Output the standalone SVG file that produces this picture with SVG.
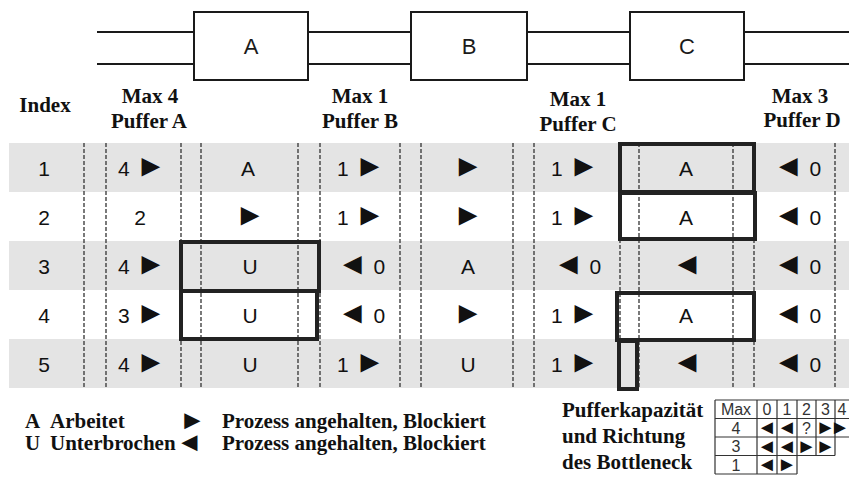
<svg xmlns="http://www.w3.org/2000/svg" width="849" height="478" viewBox="0 0 849 478">
<style>
.bg{fill:#ffffff}
.band{fill:#e4e4e4}
.pipe{stroke:#1a1a1a;stroke-width:2;fill:none}
.box{fill:#ffffff;stroke:#1a1a1a;stroke-width:2}
.blab{font-family:"Liberation Sans",Arial,sans-serif;font-size:22px;fill:#1a1a1a;text-anchor:middle}
.hdr{font-family:"Liberation Serif","Times New Roman",serif;font-weight:bold;font-size:21px;fill:#111;text-anchor:middle}
.leg{font-family:"Liberation Serif","Times New Roman",serif;font-weight:bold;font-size:21px;fill:#111}
.cell{font-family:"Liberation Sans",Arial,sans-serif;font-size:21px;fill:#111;text-anchor:middle}
.t{font-size:31px}
.tri{font-family:"Liberation Sans",Arial,sans-serif;font-size:27px;fill:#111}
.dash{stroke:#333;stroke-width:1.3;stroke-dasharray:4 2;fill:none}
.hl{stroke:#222;stroke-width:4;fill:none}
.grid{stroke:#333;stroke-width:1.2;fill:none}
.st{font-family:"Liberation Sans",Arial,sans-serif;font-size:16px;fill:#333;text-anchor:middle}
.stt{font-family:"Liberation Sans",Arial,sans-serif;font-size:20px;fill:#111;text-anchor:middle}
</style>
<rect class="bg" x="0" y="0" width="849" height="478"/>

<g id="pipes">
<path class="pipe" d="M97 32H194M97 64H194M308 32H411M308 64H411M527 32H630M527 64H630M744 32H849M744 64H849"/>
</g>
<g id="node-A"><rect class="box" x="194" y="12" width="114" height="68"/><text class="blab" x="251" y="54">A</text></g>
<g id="node-B"><rect class="box" x="411" y="12" width="116" height="68"/><text class="blab" x="469" y="54">B</text></g>
<g id="node-C"><rect class="box" x="630" y="12" width="114" height="68"/><text class="blab" x="687" y="54">C</text></g>

<g id="headers">
<text class="hdr" x="45" y="112">Index</text>
<text class="hdr" x="150" y="103">Max 4</text>
<text class="hdr" x="149" y="128">Puffer A</text>
<text class="hdr" x="360" y="103">Max 1</text>
<text class="hdr" x="360" y="128">Puffer B</text>
<text class="hdr" x="578" y="106">Max 1</text>
<text class="hdr" x="578" y="131">Puffer C</text>
<text class="hdr" x="800" y="103">Max 3</text>
<text class="hdr" x="802" y="127">Puffer D</text>
</g>

<g id="bands">
<rect class="band" x="9" y="143" width="840" height="49"/>
<rect class="band" x="9" y="241" width="840" height="49"/>
<rect class="band" x="9" y="339" width="840" height="49"/>
</g>

<g id="dashes">
<path class="dash" d="M84 143V388M106 143V388M181 143V388M201 143V388M298 143V388M320 143V388M400 143V388M421 143V388M513 143V388M534 143V388M620 143V388M639 143V388M733 143V388M754 143V388M835 143V388"/>
</g>

<g id="row1">
<text class="cell" x="44" y="176">1</text>
<text class="cell" x="142" y="176">4 <tspan class="t">►</tspan></text>
<text class="cell" x="248" y="176">A</text>
<text class="cell" x="361" y="176">1 <tspan class="t">►</tspan></text>
<text class="cell" x="468" y="176"><tspan class="t">►</tspan></text>
<text class="cell" x="575" y="176">1 <tspan class="t">►</tspan></text>
<text class="cell" x="686" y="176">A</text>
<text class="cell" x="797" y="176"><tspan class="t">◄</tspan> 0</text>
</g>
<g id="row2">
<text class="cell" x="44" y="225">2</text>
<text class="cell" x="140" y="225">2</text>
<text class="cell" x="250" y="225"><tspan class="t">►</tspan></text>
<text class="cell" x="361" y="225">1 <tspan class="t">►</tspan></text>
<text class="cell" x="468" y="225"><tspan class="t">►</tspan></text>
<text class="cell" x="575" y="225">1 <tspan class="t">►</tspan></text>
<text class="cell" x="686" y="225">A</text>
<text class="cell" x="797" y="225"><tspan class="t">◄</tspan> 0</text>
</g>
<g id="row3">
<text class="cell" x="44" y="274">3</text>
<text class="cell" x="142" y="274">4 <tspan class="t">►</tspan></text>
<text class="cell" x="250" y="274">U</text>
<text class="cell" x="361" y="274"><tspan class="t">◄</tspan> 0</text>
<text class="cell" x="468" y="274">A</text>
<text class="cell" x="577" y="274"><tspan class="t">◄</tspan> 0</text>
<text class="cell" x="687" y="274"><tspan class="t">◄</tspan></text>
<text class="cell" x="797" y="274"><tspan class="t">◄</tspan> 0</text>
</g>
<g id="row4">
<text class="cell" x="44" y="323">4</text>
<text class="cell" x="142" y="323">3 <tspan class="t">►</tspan></text>
<text class="cell" x="250" y="323">U</text>
<text class="cell" x="361" y="323"><tspan class="t">◄</tspan> 0</text>
<text class="cell" x="468" y="323"><tspan class="t">►</tspan></text>
<text class="cell" x="575" y="323">1 <tspan class="t">►</tspan></text>
<text class="cell" x="686" y="323">A</text>
<text class="cell" x="797" y="323"><tspan class="t">◄</tspan> 0</text>
</g>
<g id="row5">
<text class="cell" x="44" y="372">5</text>
<text class="cell" x="142" y="372">4 <tspan class="t">►</tspan></text>
<text class="cell" x="250" y="372">U</text>
<text class="cell" x="361" y="372">1 <tspan class="t">►</tspan></text>
<text class="cell" x="468" y="372">U</text>
<text class="cell" x="575" y="372">1 <tspan class="t">►</tspan></text>
<text class="cell" x="687" y="372"><tspan class="t">◄</tspan></text>
<text class="cell" x="797" y="372"><tspan class="t">◄</tspan> 0</text>
</g>

<g id="highlights">
<rect class="hl" x="181" y="242" width="138" height="49"/>
<rect class="hl" x="181" y="291" width="136" height="48"/>
<rect class="hl" x="620" y="144" width="134" height="48"/>
<rect class="hl" x="620" y="193" width="135" height="46"/>
<rect class="hl" x="617" y="293" width="137" height="47"/>
<rect class="hl" x="619" y="341" width="18" height="48"/>
</g>

<g id="legend">
<text class="leg" x="25" y="428">A</text>
<text class="leg" x="50" y="428">Arbeitet</text>
<text class="leg" x="25" y="450">U</text>
<text class="leg" x="50" y="450">Unterbrochen</text>
<text class="tri" x="179" y="429">►</text>
<text class="tri" x="176" y="451">◄</text>
<text class="leg" x="222" y="428">Prozess angehalten, Blockiert</text>
<text class="leg" x="222" y="450">Prozess angehalten, Blockiert</text>
<text class="leg" x="562" y="417">Pufferkapazität</text>
<text class="leg" x="562" y="443">und Richtung</text>
<text class="leg" x="562" y="469">des Bottleneck</text>
</g>

<g id="bottleneck-table">
<path class="grid" d="M715 400H849M715 418.5H849M715 437H849M715 455.5H835M715 474H797M715 400V474M757 400V474M777 400V474M797 400V474M816 400V455.5M835 400V455.5"/>
<text class="st" x="736" y="415">Max</text>
<text class="st" x="767" y="415">0</text>
<text class="st" x="787" y="415">1</text>
<text class="st" x="806.5" y="415">2</text>
<text class="st" x="825.5" y="415">3</text>
<text class="st" x="842" y="415">4</text>
<text class="st" x="736" y="433.5">4</text>
<text class="stt" x="767" y="434">◄</text>
<text class="stt" x="787" y="434">◄</text>
<text class="st" x="806.5" y="433.5">?</text>
<text class="stt" x="825.5" y="434">►</text>
<text class="stt" x="840" y="434">►</text>
<text class="st" x="736" y="452">3</text>
<text class="stt" x="767" y="452.5">◄</text>
<text class="stt" x="787" y="452.5">◄</text>
<text class="stt" x="806.5" y="452.5">►</text>
<text class="stt" x="825.5" y="452.5">►</text>
<text class="st" x="736" y="470.5">1</text>
<text class="stt" x="767" y="471">◄</text>
<text class="stt" x="787" y="471">►</text>
</g>
</svg>
